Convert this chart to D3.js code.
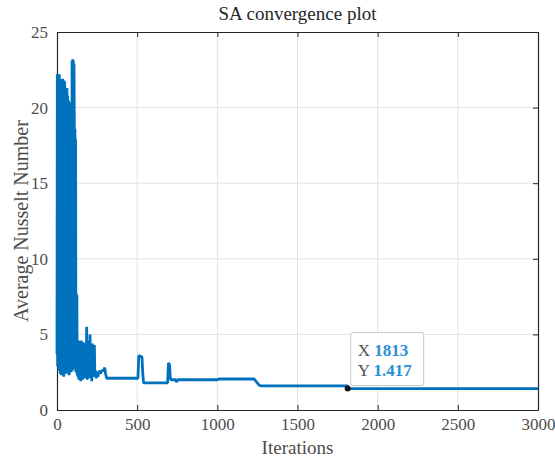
<!DOCTYPE html>
<html><head><meta charset="utf-8">
<script src="https://cdn.jsdelivr.net/npm/d3@7"></script>
<style>body{margin:0;background:#fff}svg{display:block}</style>
</head><body>
<svg id="c" width="555" height="459"></svg>
<script>
// Early iterations (dense oscillation), step 2
const earlyIter = d3.range(0, 130, 2);
const earlyVals = [3.7,22.2,2.9,22.1,3.2,22.0,2.6,22.2,4.1,21.9,2.4,18.8,3.5,17.9,2.3,19.0,21.8,2.7,21.9,3.0,21.6,2.2,21.8,3.3,21.7,2.5,21.3,3.1,21.2,2.4,21.0,21.3,2.9,20.8,2.6,20.5,4.4,20.4,2.3,18.6,2.7,15.8,3.3,15.9,2.5,20.3,3.8,23.1,2.6,23.2,3.0,23.1,2.8,22.9,18.7,2.7,18.6,3.4,17.9,2.5,7.7,2.8,7.6,2.3,4.6];
// Later iterations (sparser)
const lateIter = [130,133,136,139,142,145,148,151,154,157,160,163,166,170,174,178,182,185,188,192,196,200,203,206,209,213,217,221,225,229,233,236,240,245,250,255,262,270,280,290,298,303,310,505,510,530,535,540,690,695,702,706,710,740,745,752,1000,1010,1230,1260,1270,1813,1813,3000];
const lateVals = [2.2,4.6,2.0,4.5,2.4,4.4,1.9,4.6,2.3,3.6,2.0,4.5,2.6,3.2,2.1,4.4,2.2,5.5,2.0,3.0,2.4,4.6,2.1,5.0,2.3,3.6,1.9,4.4,2.2,2.6,4.3,2.3,2.6,2.1,2.5,2.2,2.6,2.4,2.6,2.6,2.8,2.4,2.1,2.1,3.6,3.5,2.4,1.8,1.8,3.1,3.0,2.2,2.0,2.0,1.85,2.0,2.0,2.05,2.05,1.65,1.6,1.6,1.417,1.417];
const xTicks = [0,500,1000,1500,2000,2500,3000];
const yTicks = [0,5,10,15,20,25];
const tipX = 1813, tipY = 1.417;

const data = earlyIter.map((x,i)=>({x, y: earlyVals[i]}))
  .concat(lateIter.map((x,i)=>({x, y: lateVals[i]})));

const svg = d3.select('#c');
const m = {l:57, r:538, t:32, b:410};
const x = d3.scaleLinear().domain([0,3000]).range([m.l, m.r]);
const y = d3.scaleLinear().domain([0,25]).range([m.b, m.t]);
const font = "'Liberation Serif','Times New Roman',serif";

// grid
svg.append('g').selectAll('line').data(xTicks.slice(1,-1)).join('line')
  .attr('x1',d=>x(d)).attr('x2',d=>x(d)).attr('y1',m.t).attr('y2',m.b)
  .attr('stroke','#e2e2e2').attr('stroke-width',1);
svg.append('g').selectAll('line').data(yTicks.slice(1,-1)).join('line')
  .attr('y1',d=>y(d)).attr('y2',d=>y(d)).attr('x1',m.l).attr('x2',m.r)
  .attr('stroke','#e2e2e2').attr('stroke-width',1);

// axes
const fmt = d3.format('d');
const ax = svg.append('g').attr('transform',`translate(0,${m.b})`)
  .call(d3.axisBottom(x).tickValues(xTicks).tickFormat(fmt).tickSizeInner(-5).tickSizeOuter(0).tickPadding(8));
const ay = svg.append('g').attr('transform',`translate(${m.l},0)`)
  .call(d3.axisLeft(y).tickValues(yTicks).tickFormat(fmt).tickSizeInner(-5).tickSizeOuter(0).tickPadding(9));
const axT = svg.append('g').attr('transform',`translate(0,${m.t})`)
  .call(d3.axisTop(x).tickValues(xTicks).tickSizeInner(-5).tickSizeOuter(0).tickFormat(''));
const ayR = svg.append('g').attr('transform',`translate(${m.r},0)`)
  .call(d3.axisRight(y).tickValues(yTicks).tickSizeInner(-5).tickSizeOuter(0).tickFormat(''));
[ax,ay,axT,ayR].forEach(g=>{
  g.select('.domain').attr('stroke','#262626').attr('stroke-width',1.2);
  g.selectAll('.tick line').attr('stroke','#262626');
  g.selectAll('text').attr('font-family',font).attr('font-size',17).attr('fill','#4d4d4d');
});

// line
svg.append('path').datum(data)
  .attr('d', d3.line().x(d=>x(d.x)).y(d=>y(d.y)))
  .attr('fill','none').attr('stroke','#0072BD').attr('stroke-width',2.8)
  .attr('stroke-linejoin','miter').attr('stroke-miterlimit',1);

// title and labels
svg.append('text').attr('x',(m.l+m.r)/2).attr('y',20).attr('text-anchor','middle')
  .attr('font-family',font).attr('font-size',19).attr('fill','#262626').text('SA convergence plot');
svg.append('text').attr('x',(m.l+m.r)/2).attr('y',454).attr('text-anchor','middle')
  .attr('font-family',font).attr('font-size',19).attr('fill','#4d4d4d').text('Iterations');
svg.append('text').attr('transform',`translate(28,${(m.t+m.b)/2}) rotate(-90)`).attr('text-anchor','middle')
  .attr('font-family',font).attr('font-size',20).attr('fill','#4d4d4d').text('Average Nusselt Number');

// datatip
const px = x(tipX), py = y(tipY);
const tip = svg.append('g').attr('transform',`translate(${px+3},${py-56})`);
tip.append('rect').attr('x',0).attr('y',0).attr('width',73).attr('height',53).attr('rx',2)
  .attr('fill','#fff').attr('fill-opacity',0.92).attr('stroke','#c8c8c8');
const t1 = tip.append('text').attr('x',7).attr('y',23).attr('font-family',font).attr('font-size',17);
t1.append('tspan').attr('fill','#555').text('X ');
t1.append('tspan').attr('fill','#2a8fd6').attr('font-weight','bold').text('1813');
const t2 = tip.append('text').attr('x',7).attr('y',43).attr('font-family',font).attr('font-size',17);
t2.append('tspan').attr('fill','#555').text('Y ');
t2.append('tspan').attr('fill','#2a8fd6').attr('font-weight','bold').text('1.417');
svg.append('circle').attr('cx',px).attr('cy',py).attr('r',3).attr('fill','#111');
</script>
</body></html>
